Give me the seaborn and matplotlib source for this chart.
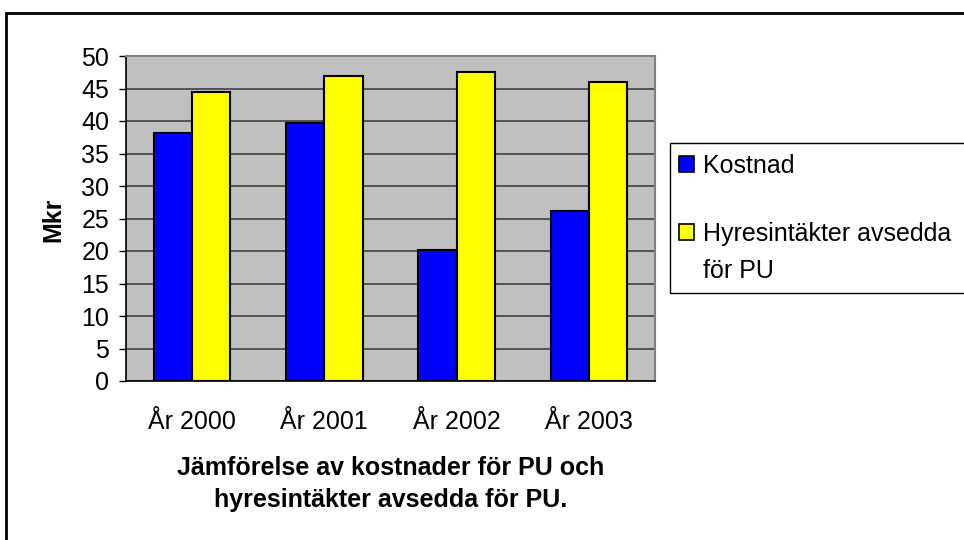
import pandas as pd
import matplotlib
matplotlib.use("Agg")
import matplotlib.pyplot as plt
from matplotlib.patches import Rectangle, Patch
import seaborn as sns

# data
years = ["År 2000", "År 2001", "År 2002", "År 2003"]
kostnad = [38.1, 39.7, 20.2, 26.1]
hyres = [44.5, 47.0, 47.5, 46.0]
series = ["Kostnad", "Hyresintäkter avsedda\nför PU"]
yticks = list(range(0, 55, 5))

df = pd.DataFrame({"year": years * 2,
                   "value": kostnad + hyres,
                   "serie": [series[0]] * 4 + [series[1]] * 4})

sns.set_theme(style="white")
plt.rcParams["font.family"] = ["Liberation Sans", "DejaVu Sans"]
plt.rcParams["text.color"] = "black"
plt.rcParams["axes.labelcolor"] = "black"
plt.rcParams["xtick.color"] = "black"
plt.rcParams["ytick.color"] = "black"
FS = 18

fig = plt.figure(figsize=(9.64, 5.4), dpi=100)
W, H = 964, 540
ax = fig.add_axes([126 / W, 1 - 381 / H, 529 / W, 325 / H])
ax.set_facecolor("#C0C0C0")

colors = ["#0000FF", "#FFFF00"]
sns.barplot(data=df, x="year", y="value", hue="serie", palette=colors,
            saturation=1, edgecolor="black", linewidth=1.5,
            width=0.58, gap=0, legend=False, ax=ax, zorder=3)

ax.set_xlim(-0.5, 3.5)
ax.set_ylim(0, 50)
ax.set_yticks(yticks)
ax.yaxis.grid(True, color="#404040", linewidth=1.2, zorder=0)
ax.set_axisbelow(True)
ax.set_xlabel("")
ax.set_ylabel("")

# category boundary ticks on x axis
ax.set_xticks([i - 0.5 for i in range(5)], minor=True)
ax.tick_params(axis="x", which="major", length=0, pad=21, labelsize=FS)
ax.tick_params(axis="x", which="minor", length=6, width=1, color="black",
               direction="out")
ax.tick_params(axis="y", length=5, width=1, color="black", pad=7,
               labelsize=FS, left=True)
ax.tick_params(axis="x", bottom=True)

for s in ["top", "right"]:
    ax.spines[s].set_color("#808080")
    ax.spines[s].set_linewidth(1.5)
for s in ["left", "bottom"]:
    ax.spines[s].set_color("black")
    ax.spines[s].set_linewidth(1.2)

fig.text(53 / W, 1 - 220 / H, "Mkr", rotation=90, ha="center", va="center",
         fontsize=FS, fontweight="bold")
fig.text(391 / W, 1 - 484 / H,
         "Jämförelse av kostnader för PU och\nhyresintäkter avsedda för PU.",
         ha="center", va="center", fontsize=FS, fontweight="bold",
         linespacing=1.45)

# legend box
fig.patches.append(Rectangle((670 / W, 1 - 293 / H), 320 / W, 150 / H,
                             transform=fig.transFigure, fill=False,
                             edgecolor="black", linewidth=1))
handles = [Patch(facecolor=c, edgecolor="black", linewidth=1.2) for c in colors]
first_lines = [s.split("\n")[0] for s in series]
fig.legend(handles, first_lines, loc="upper left",
           bbox_to_anchor=(679 / W, 1 - 154 / H), frameon=False,
           borderpad=0, borderaxespad=0, handlelength=0.6, handleheight=0.6,
           handletextpad=0.35, labelspacing=1.75, fontsize=FS)
# second line of the wrapped legend label
fig.text(703 / W, 1 - 278 / H, series[1].split("\n")[1], fontsize=FS,
         ha="left", va="baseline")

# outer chart frame
fig.patches.append(Rectangle((6 / W, -0.1), 1.2, 1 - 13 / H + 0.1,
                             transform=fig.transFigure, fill=False,
                             edgecolor="black", linewidth=2))

fig.savefig("out.png", dpi=100)
